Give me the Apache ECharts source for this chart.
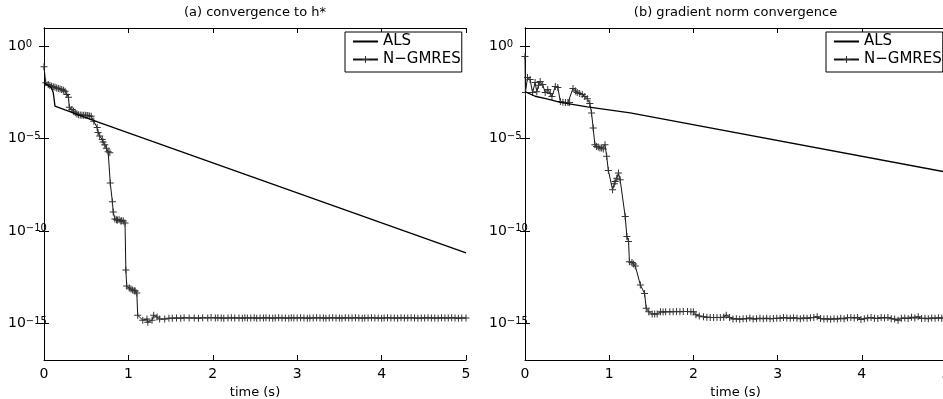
<!DOCTYPE html>
<html><head><meta charset="utf-8">
<script src="https://cdn.jsdelivr.net/npm/echarts@6/dist/echarts.min.js"></script>
<style>html,body{margin:0;padding:0;background:#fff}#c{width:943px;height:399px}</style>
</head><body><div id="c"></div>
<script>
// ---- data (time in s, value given as log10) ----
const titles = ['(a) convergence to h*', '(b) gradient norm convergence'];
const xName = 'time (s)';
const seriesNames = ['ALS', 'N\u2212GMRES'];
const xTicks = [0, 1, 2, 3, 4, 5];
const yTickValues = [1, 1e-5, 1e-10, 1e-15];

const alsA = [[0,-1.97],[0.09,-2.25],[0.11,-2.51],[0.13,-3.24],[0.6,-4.04],[5,-11.19]];
const ngmresA = [[0,-1.10],[0.02,-1.97],[0.05,-2.07],[0.07,-2.12],[0.09,-2.16],[0.11,-2.19],[0.13,-2.21],[0.15,-2.25],[0.17,-2.28],[0.19,-2.31],[0.21,-2.34],[0.23,-2.38],[0.25,-2.43],[0.27,-2.60],[0.29,-2.75],[0.30,-3.30],[0.33,-3.42],[0.35,-3.52],[0.37,-3.60],[0.39,-3.66],[0.41,-3.70],[0.43,-3.72],[0.45,-3.73],[0.47,-3.73],[0.49,-3.73],[0.51,-3.74],[0.52,-3.75],[0.54,-3.77],[0.56,-3.79],[0.59,-4.06],[0.63,-4.40],[0.64,-4.67],[0.66,-4.85],[0.69,-5.05],[0.70,-5.18],[0.72,-5.33],[0.74,-5.52],[0.76,-5.71],[0.78,-5.76],[0.785,-7.40],[0.81,-8.42],[0.82,-8.97],[0.84,-9.35],[0.86,-9.40],[0.87,-9.41],[0.89,-9.40],[0.91,-9.46],[0.92,-9.45],[0.94,-9.46],[0.96,-9.57],[0.97,-12.12],[0.98,-12.99],[1.01,-13.10],[1.03,-13.15],[1.05,-13.21],[1.07,-13.24],[1.08,-13.26],[1.10,-13.37],[1.11,-14.57],[1.17,-14.84],[1.22,-14.78],[1.23,-14.95],[1.28,-14.84],[1.30,-14.57],[1.34,-14.67],[1.37,-14.78],[1.43,-14.78],[1.48,-14.74],[1.52,-14.73],[1.57,-14.72],[1.62,-14.73],[1.66,-14.71],[1.72,-14.72],[1.78,-14.72],[1.83,-14.73],[1.88,-14.71],[1.94,-14.72],[1.98,-14.70],[2.03,-14.72],[2.06,-14.71],[2.10,-14.72],[2.13,-14.73],[2.18,-14.72],[2.22,-14.71],[2.26,-14.72],[2.31,-14.72],[2.35,-14.73],[2.38,-14.71],[2.41,-14.72],[2.45,-14.72],[2.49,-14.71],[2.52,-14.73],[2.56,-14.72],[2.60,-14.72],[2.63,-14.71],[2.67,-14.72],[2.71,-14.73],[2.74,-14.72],[2.78,-14.71],[2.82,-14.72],[2.86,-14.72],[2.90,-14.73],[2.93,-14.71],[2.96,-14.72],[3.00,-14.72],[3.04,-14.71],[3.08,-14.72],[3.12,-14.73],[3.15,-14.72],[3.19,-14.72],[3.23,-14.71],[3.27,-14.72],[3.31,-14.72],[3.34,-14.73],[3.38,-14.72],[3.42,-14.71],[3.46,-14.72],[3.50,-14.72],[3.53,-14.73],[3.57,-14.71],[3.61,-14.72],[3.65,-14.72],[3.69,-14.71],[3.73,-14.72],[3.77,-14.73],[3.80,-14.72],[3.84,-14.72],[3.88,-14.71],[3.92,-14.72],[3.96,-14.72],[4.00,-14.73],[4.03,-14.72],[4.07,-14.71],[4.11,-14.72],[4.15,-14.72],[4.19,-14.73],[4.23,-14.71],[4.27,-14.72],[4.31,-14.72],[4.35,-14.71],[4.39,-14.72],[4.43,-14.73],[4.47,-14.72],[4.51,-14.72],[4.55,-14.71],[4.59,-14.72],[4.63,-14.72],[4.67,-14.73],[4.71,-14.71],[4.75,-14.72],[4.79,-14.72],[4.83,-14.71],[4.87,-14.72],[4.91,-14.73],[4.95,-14.72],[5.00,-14.72]];

const alsB = [[0,-2.45],[0.12,-2.70],[0.26,-2.84],[0.42,-3.03],[0.74,-3.28],[1.25,-3.60],[5,-6.81]];
const ngmresB = [[0,-0.54],[0.005,-2.50],[0.03,-1.68],[0.06,-1.79],[0.09,-2.50],[0.12,-1.96],[0.14,-2.45],[0.16,-2.10],[0.18,-1.90],[0.21,-2.07],[0.24,-2.50],[0.27,-2.34],[0.30,-2.55],[0.32,-2.72],[0.36,-2.17],[0.39,-2.23],[0.42,-2.99],[0.45,-3.02],[0.48,-3.04],[0.51,-3.04],[0.53,-3.04],[0.57,-2.28],[0.60,-2.42],[0.62,-2.50],[0.65,-2.55],[0.68,-2.61],[0.71,-2.72],[0.74,-2.83],[0.77,-3.10],[0.79,-3.61],[0.81,-4.42],[0.83,-5.33],[0.85,-5.42],[0.87,-5.45],[0.89,-5.51],[0.91,-5.50],[0.93,-5.56],[0.95,-5.33],[0.97,-5.96],[0.99,-6.72],[1.04,-7.77],[1.06,-7.45],[1.07,-7.32],[1.09,-7.15],[1.11,-6.86],[1.13,-7.23],[1.19,-9.22],[1.21,-10.31],[1.23,-10.58],[1.24,-11.67],[1.27,-11.72],[1.29,-11.79],[1.31,-11.90],[1.37,-12.93],[1.42,-13.39],[1.44,-14.20],[1.47,-14.38],[1.51,-14.51],[1.54,-14.51],[1.57,-14.51],[1.61,-14.38],[1.64,-14.40],[1.67,-14.38],[1.72,-14.38],[1.76,-14.38],[1.80,-14.37],[1.84,-14.38],[1.88,-14.37],[1.93,-14.37],[1.97,-14.38],[2.00,-14.38],[2.03,-14.55],[2.07,-14.62],[2.12,-14.66],[2.16,-14.68],[2.20,-14.69],[2.24,-14.70],[2.28,-14.69],[2.32,-14.70],[2.36,-14.68],[2.39,-14.57],[2.43,-14.70],[2.47,-14.78],[2.51,-14.76],[2.55,-14.79],[2.59,-14.77],[2.63,-14.76],[2.67,-14.72],[2.71,-14.78],[2.75,-14.77],[2.79,-14.74],[2.83,-14.76],[2.87,-14.73],[2.91,-14.77],[2.95,-14.75],[2.99,-14.74],[3.03,-14.73],[3.07,-14.70],[3.11,-14.72],[3.15,-14.74],[3.19,-14.71],[3.23,-14.73],[3.27,-14.76],[3.31,-14.72],[3.35,-14.74],[3.39,-14.71],[3.43,-14.69],[3.47,-14.65],[3.51,-14.75],[3.55,-14.78],[3.59,-14.77],[3.63,-14.79],[3.67,-14.76],[3.71,-14.78],[3.75,-14.74],[3.79,-14.77],[3.83,-14.71],[3.87,-14.69],[3.91,-14.72],[3.95,-14.70],[3.99,-14.80],[4.03,-14.76],[4.07,-14.72],[4.11,-14.70],[4.15,-14.73],[4.19,-14.75],[4.23,-14.70],[4.27,-14.72],[4.31,-14.69],[4.35,-14.76],[4.39,-14.78],[4.43,-14.84],[4.47,-14.74],[4.51,-14.72],[4.55,-14.75],[4.59,-14.68],[4.63,-14.72],[4.67,-14.66],[4.71,-14.75],[4.75,-14.73],[4.79,-14.76],[4.83,-14.72],[4.87,-14.74],[4.91,-14.71],[4.95,-14.73],[5.00,-14.72]];

// ---- build ----
const FONT = 'DejaVu Sans';
const toPts = arr => arr.map(p => [p[0], Math.pow(10, p[1])]);
const plus = 'path://M3,0H4V3H7V4H4V7H3V4H0V3H3Z';

function yLabel(v) {
  const e = Math.round(Math.log10(v));
  return '{b|10}{e|' + (e < 0 ? '\u2212' + (-e) : e) + '}';
}
const grids = [
  {left: 44, top: 28, width: 422, height: 332, outerBoundsMode: 'none', containLabel: false},
  {left: 525, top: 28, width: 421, height: 332, outerBoundsMode: 'none', containLabel: false}
];
const xAxes = [], yAxes = [], series = [], titleArr = [], legends = [];
const legendLeft = [345, 826];
grids.forEach((g, i) => {
  const axLine = {show: true, lineStyle: {color: '#000', width: 1}};
  const tick = {show: true, inside: true, length: 5, lineStyle: {color: '#000', width: 1}};
  xAxes.push({type: 'value', gridIndex: i, position: 'bottom', min: 0, max: 5, interval: 1,
    axisLine: axLine, axisTick: tick, splitLine: {show: false},
    axisLabel: {margin: 7, fontSize: 14, fontFamily: FONT, color: '#000'},
    name: xName, nameLocation: 'middle', nameGap: 20,
    nameTextStyle: {fontSize: 13, fontFamily: FONT, color: '#000'}});
  xAxes.push({type: 'value', gridIndex: i, position: 'top', min: 0, max: 5, interval: 1,
    axisLine: axLine, axisTick: tick, splitLine: {show: false}, axisLabel: {show: false}});
  yAxes.push({type: 'log', logBase: 10, gridIndex: i, position: 'left', min: 1e-17, max: 10,
    axisLine: axLine, splitLine: {show: false},
    axisTick: Object.assign({customValues: yTickValues}, tick),
    axisLabel: {customValues: yTickValues, formatter: yLabel, margin: 36, align: 'left',
      color: '#000',
      rich: {b: {fontSize: 14, fontFamily: FONT, color: '#000', verticalAlign: 'bottom', lineHeight: 14},
             e: {fontSize: 10, fontFamily: FONT, color: '#000', verticalAlign: 'top', lineHeight: 10, padding: [0, 0, 10, 0]}}}});
  yAxes.push({type: 'log', logBase: 10, gridIndex: i, position: 'right', min: 1e-17, max: 10,
    axisLine: axLine, splitLine: {show: false},
    axisTick: Object.assign({customValues: yTickValues}, tick),
    axisLabel: {show: false}});
  titleArr.push({text: titles[i], left: g.left + g.width / 2, textAlign: 'center', top: 6, padding: 0,
    textStyle: {fontSize: 13, fontWeight: 'normal', fontFamily: FONT, color: '#000'}});
  legends.push({left: legendLeft[i], top: 32, orient: 'vertical',
    data: [{name: seriesNames[0], itemStyle: {opacity: 0}}, {name: seriesNames[1]}],
    itemWidth: 25, itemHeight: 9, itemGap: 3, padding: [2, 1, 5, 7],
    borderColor: '#000', borderWidth: 1, backgroundColor: '#fff', selectedMode: false,
    textStyle: {fontSize: 15, fontFamily: FONT, color: '#000', lineHeight: 15}});
});
const sets = [[alsA, ngmresA], [alsB, ngmresB]];
sets.forEach((s, i) => {
  series.push({name: seriesNames[0], type: 'line', xAxisIndex: 2 * i, yAxisIndex: 2 * i,
    data: toPts(s[0]), symbol: 'none', lineStyle: {color: '#000', width: 1.3},
    itemStyle: {color: '#000'}, clip: true, z: 3});
  series.push({name: seriesNames[1], type: 'line', xAxisIndex: 2 * i, yAxisIndex: 2 * i,
    data: toPts(s[1]), symbol: plus, symbolSize: 7, showSymbol: true, showAllSymbol: true,
    lineStyle: {color: '#111', width: 1}, itemStyle: {color: '#333'}, clip: true, z: 2});
});

const chart = echarts.init(document.getElementById('c'), null, {renderer: 'canvas'});
chart.setOption({
  animation: false, backgroundColor: '#fff',
  title: titleArr, legend: legends, grid: grids,
  xAxis: xAxes, yAxis: yAxes, series: series
});
</script></body></html>
